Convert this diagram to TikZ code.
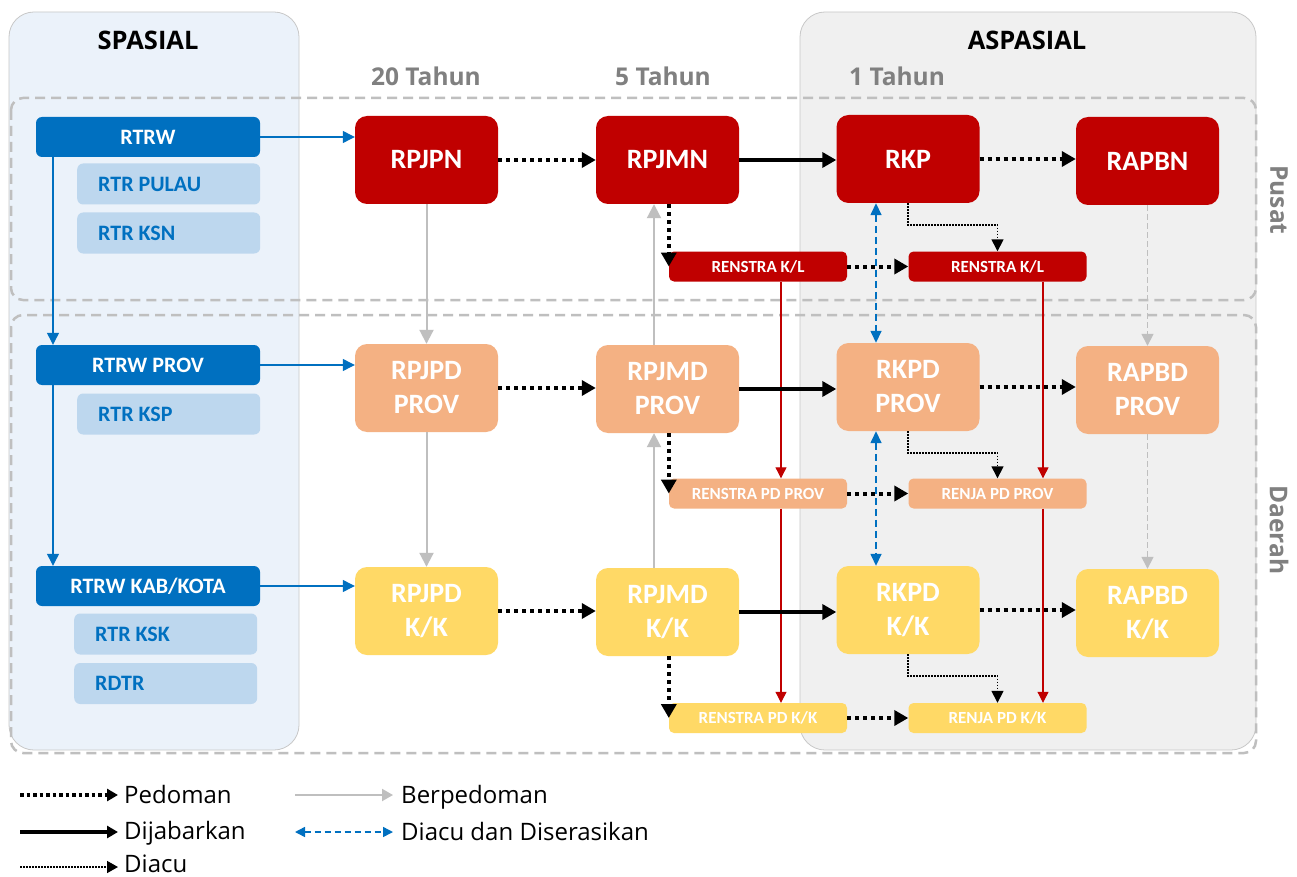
\documentclass[tikz,border=0pt]{standalone}
\usepackage{fontspec}
\setmainfont{Carlito}
\newfontfamily\segoe{Open Sans}
\usetikzlibrary{arrows.meta,calc}
\definecolor{dred}{HTML}{C00000}
\definecolor{lorange}{HTML}{F4B183}
\definecolor{lyellow}{HTML}{FFD966}
\definecolor{dblue}{HTML}{0070C0}
\definecolor{lblue}{HTML}{BDD7EE}
\definecolor{spbg}{HTML}{EBF2FA}
\definecolor{aspbg}{HTML}{F0F0F0}
\definecolor{grayline}{HTML}{BFBFBF}
\definecolor{panelline}{HTML}{C8C8C8}
\definecolor{graytext}{HTML}{808080}
\definecolor{redline}{HTML}{C00000}
\begin{document}
\begin{tikzpicture}[x=1pt,y=-1pt,
  bigbox/.style={rounded corners=12pt, minimum width=143pt, minimum height=88pt, inner sep=0pt,
    text=white, align=center, font=\bfseries\fontsize{28}{34}\selectfont},
  smallbox/.style={rounded corners=5pt, minimum width=178pt, minimum height=30pt, inner sep=0pt,
    text=white, font=\bfseries\fontsize{17}{19}\selectfont},
  spbox/.style={rounded corners=6pt, fill=dblue, minimum width=224pt, minimum height=40pt, inner sep=0pt,
    text=white, font=\bfseries\fontsize{22}{25}\selectfont},
  subbox/.style={rounded corners=6pt, fill=lblue, minimum height=41pt, inner xsep=21pt,
    inner ysep=0pt, text=dblue, font=\bfseries\fontsize{22}{25}\selectfont, anchor=west},
  head/.style={text=black, font=\segoe\bfseries\fontsize{25.5}{30}\selectfont},
  period/.style={text=graytext, font=\segoe\bfseries\fontsize{24.5}{30}\selectfont},
  pedoman/.style={line width=4pt, dash pattern=on 4pt off 4pt, -{Triangle[length=14pt,width=15pt]}},
  dijabarkan/.style={line width=4pt, -{Triangle[length=14pt,width=15pt]}},
  diacu/.style={line width=1.5pt, dash pattern=on 1.5pt off 1.5pt, -{Triangle[length=12pt,width=12pt]}},
  berped/.style={grayline, line width=2pt, -{Triangle[length=14pt,width=14pt]}},
  berpeddash/.style={grayline, line width=1.5pt, dash pattern=on 6pt off 3pt, -{Triangle[length=12pt,width=12pt]}},
  serasi/.style={dblue, line width=1.5pt, dash pattern=on 7pt off 4pt, {Triangle[length=12pt,width=11pt]}-{Triangle[length=12pt,width=11pt]}},
  bluearr/.style={dblue, line width=1.2pt, -{Triangle[length=12pt,width=12pt]}},
  redarr/.style={redline, line width=1.1pt, -{Triangle[length=11pt,width=11pt]}},
  dashbox/.style={grayline, line width=2.5pt, dash pattern=on 10pt off 6pt, rounded corners=12pt},
  legendtext/.style={anchor=base west, text=black, font=\segoe\fontsize{24}{28}\selectfont, inner sep=0pt},
  lgped/.style={line width=3.5pt, dash pattern=on 3.5pt off 3pt, -{Triangle[length=11pt,width=12pt]}},
  lgdij/.style={line width=4pt, -{Triangle[length=11pt,width=12pt]}},
  lgdiacu/.style={line width=1.5pt, dash pattern=on 1.5pt off 1.5pt, -{Triangle[length=11pt,width=12pt]}},
  lgber/.style={grayline, line width=2pt, -{Triangle[length=11pt,width=12pt]}},
  lgser/.style={dblue, line width=1.5pt, dash pattern=on 6pt off 4pt, {Triangle[length=10pt,width=10pt]}-{Triangle[length=10pt,width=10pt]}}
]
\useasboundingbox (0,0) rectangle (1297,877);
\fill[white] (0,0) rectangle (1297,877);

% panels
\draw[panelline, fill=spbg, line width=0.8pt, rounded corners=25pt] (9,12) rectangle (299,750);
\draw[panelline, fill=aspbg, line width=0.8pt, rounded corners=25pt] (800,12) rectangle (1256,750);
\draw[dashbox] (11,98) rectangle (1256,300);
\draw[dashbox] (11,315) rectangle (1256,753);

% headings
\node[head] (hsp) at (148,40) {SPASIAL};
\node[head] (hasp) at (1027,40) {ASPASIAL};
\node[period] (p20) at (426,76) {20 Tahun};
\node[period] (p5) at (663,76) {5 Tahun};
\node[period] (p1) at (897,76) {1 Tahun};
\node[period, rotate=-90] (pusat) at (1279,200) {Pusat};
\node[period, rotate=-90] (daerah) at (1279,530) {Daerah};

% spatial column
\node[spbox] (rtrw) at (148,137) {RTRW};
\node[subbox] (pulau) at (77,184) {\makebox[141pt][l]{RTR PULAU}};
\node[subbox] (ksn) at (77,233) {\makebox[141pt][l]{RTR KSN}};
\node[spbox] (rtrwp) at (148,365) {RTRW PROV};
\node[subbox] (ksp) at (77,414) {\makebox[141pt][l]{RTR KSP}};
\node[spbox] (rtrwk) at (148,586) {RTRW KAB/KOTA};
\node[subbox] (ksk) at (74,634) {\makebox[141pt][l]{RTR KSK}};
\node[subbox] (rdtr) at (74,683.5) {\makebox[141pt][l]{RDTR}};

% main boxes
\node[bigbox, fill=dred] (rpjpn) at (426.5,160) {RPJPN};
\node[bigbox, fill=dred] (rpjmn) at (667.5,160) {RPJMN};
\node[bigbox, fill=dred] (rkp) at (908,159) {RKP};
\node[bigbox, fill=dred] (rapbn) at (1147.5,161) {RAPBN};

\node[bigbox, fill=lorange] (rpjpdp) at (426.5,388) {RPJPD\\PROV};
\node[bigbox, fill=lorange] (rpjmdp) at (667.5,389) {RPJMD\\PROV};
\node[bigbox, fill=lorange] (rkpdp) at (908,387) {RKPD\\PROV};
\node[bigbox, fill=lorange] (rapbdp) at (1147.5,390) {RAPBD\\PROV};

\node[bigbox, fill=lyellow] (rpjpdk) at (426.5,611) {RPJPD\\K/K};
\node[bigbox, fill=lyellow] (rpjmdk) at (667.5,612) {RPJMD\\K/K};
\node[bigbox, fill=lyellow] (rkpdk) at (908,610) {RKPD\\K/K};
\node[bigbox, fill=lyellow] (rapbdk) at (1147.5,613) {RAPBD\\K/K};

% small boxes
\node[smallbox, fill=dred] (rkl1) at (758,266.5) {RENSTRA K/L};
\node[smallbox, fill=dred] (rkl2) at (997.5,266.5) {RENSTRA K/L};
\node[smallbox, fill=lorange] (rpdp) at (758,493.5) {RENSTRA PD PROV};
\node[smallbox, fill=lorange] (jpdp) at (997.5,493.5) {RENJA PD PROV};
\node[smallbox, fill=lyellow] (rpdk) at (758,718) {RENSTRA PD K/K};
\node[smallbox, fill=lyellow] (jpdk) at (997.5,718) {RENJA PD K/K};

% helper x positions
\coordinate (bx) at (53,0);
\coordinate (gx) at (654,0);
\coordinate (ux) at (876,0);
\coordinate (ra) at (781,0);
\coordinate (rb) at (1043,0);

% spatial connectors
\draw[bluearr] (rtrw.east) -- (rtrw.east -| rpjpn.west);
\draw[bluearr] (rtrwp.east) -- (rtrwp.east -| rpjpdp.west);
\draw[bluearr] (rtrwk.east) -- (rtrwk.east -| rpjpdk.west);
\draw[bluearr] (rtrw.south -| bx) -- (rtrwp.north -| bx);
\draw[bluearr] (rtrwp.south -| bx) -- (rtrwk.north -| bx);

% berpedoman (gray)
\draw[berped] (rpjpn.south) -- (rpjpdp.north);
\draw[berped] (rpjpdp.south) -- (rpjpdk.north);
\draw[berped] (rpjmdp.north -| gx) -- (rpjmn.south -| gx);
\draw[berped] (rpjmdk.north -| gx) -- (rpjmdp.south -| gx);
\draw[berpeddash] (rapbn.south) -- (rapbdp.north);
\draw[berpeddash] (rapbdp.south) -- (rapbdk.north);

% red thin
\draw[redarr] (rkl1.south -| ra) -- (rpdp.north -| ra);
\draw[redarr] (rpdp.south -| ra) -- (rpdk.north -| ra);
\draw[redarr] (rkl2.south -| rb) -- (jpdp.north -| rb);
\draw[redarr] (jpdp.south -| rb) -- (jpdk.north -| rb);

% diacu dan diserasikan
\draw[serasi] (rkp.south -| ux) -- (rkpdp.north -| ux);
\draw[serasi] (rkpdp.south -| ux) -- (rkpdk.north -| ux);

% pedoman rows
\draw[pedoman] (rpjpn.east) -- (rpjpn.east -| rpjmn.west);
\draw[pedoman] (rkp.east) -- (rkp.east -| rapbn.west);
\draw[pedoman] (rpjpdp.east) -- (rpjpdp.east -| rpjmdp.west);
\draw[pedoman] (rkpdp.east) -- (rkpdp.east -| rapbdp.west);
\draw[pedoman] (rpjpdk.east) -- (rpjpdk.east -| rpjmdk.west);
\draw[pedoman] (rkpdk.east) -- (rkpdk.east -| rapbdk.west);
\draw[pedoman] (rkl1.east) -- (rkl2.west);
\draw[pedoman] (rpdp.east) -- (jpdp.west);
\draw[pedoman] (rpdk.east) -- (jpdk.west);
\draw[pedoman] (rpjmn.south -| rkl1.west) -- (rkl1.west);
\draw[pedoman] (rpjmdp.south -| rpdp.west) -- (rpdp.west);
\draw[pedoman] (rpjmdk.south -| rpdk.west) -- (rpdk.west);

% dijabarkan
\draw[dijabarkan] (rpjmn.east) -- (rpjmn.east -| rkp.west);
\draw[dijabarkan] (rpjmdp.east) -- (rpjmdp.east -| rkpdp.west);
\draw[dijabarkan] (rpjmdk.east) -- (rpjmdk.east -| rkpdk.west);

% diacu
\draw[diacu] (rkp.south) -- ++(0,22) -| (rkl2.north);
\draw[diacu] (rkpdp.south) -- ++(0,22) -| (jpdp.north);
\draw[diacu] (rkpdk.south) -- ++(0,22) -| (jpdk.north);

% legend
\coordinate (l1a) at (20,795); \coordinate (l1b) at (118,795);
\coordinate (l2a) at (20,832); \coordinate (l2b) at (118,832);
\coordinate (l3a) at (20,867); \coordinate (l3b) at (118,867);
\coordinate (l4a) at (295,795); \coordinate (l4b) at (393,795);
\coordinate (l5a) at (295,832); \coordinate (l5b) at (393,832);
\draw[lgped] (l1a) -- (l1b);
\draw[lgdij] (l2a) -- (l2b);
\draw[lgdiacu] (l3a) -- (l3b);
\draw[lgber] (l4a) -- (l4b);
\draw[lgser] (l5a) -- (l5b);
\node[legendtext] (t1) at (124,803) {Pedoman};
\node[legendtext] (t2) at (124,839) {Dijabarkan};
\node[legendtext] (t3) at (124,872) {Diacu};
\node[legendtext] (t4) at (401,803) {Berpedoman};
\node[legendtext] (t5) at (401,840) {Diacu dan Diserasikan};
\end{tikzpicture}
\end{document}
